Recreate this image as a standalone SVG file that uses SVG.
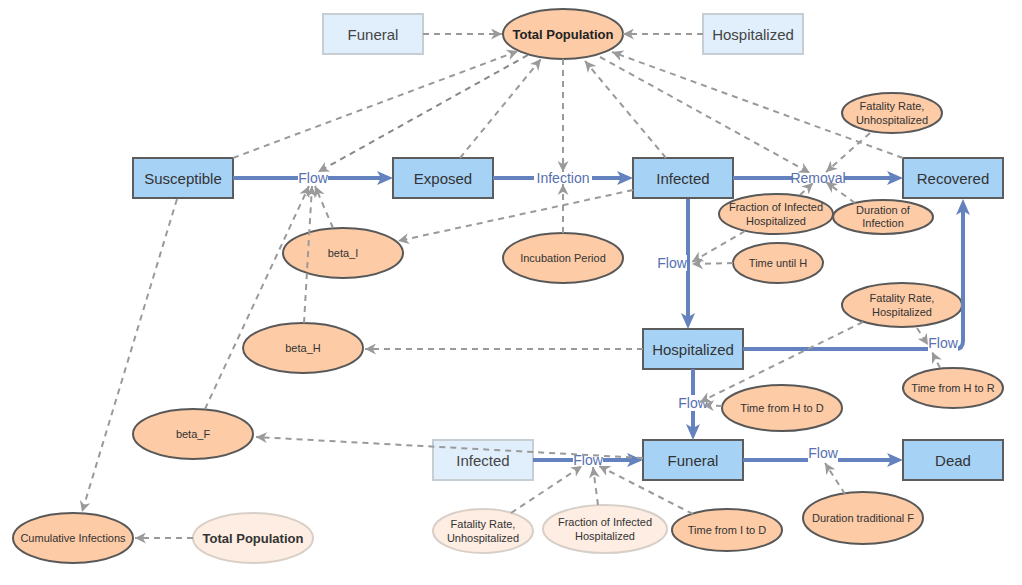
<svg xmlns="http://www.w3.org/2000/svg" width="1022" height="585" viewBox="0 0 1022 585">
<style>
.stock{fill:#a6d2f6;stroke:#5c5c5c;stroke-width:2}
.ghostb{fill:#e1effc;stroke:#c6cdd3;stroke-width:2}
.var{fill:#fdcba6;stroke:#585858;stroke-width:2}
.ghoste{fill:#fdede2;stroke:#d8d0c8;stroke-width:2}
.bt{font-family:"Liberation Sans",Arial,sans-serif;font-size:15px;fill:#333;text-anchor:middle;dominant-baseline:central}
.gt{font-family:"Liberation Sans",Arial,sans-serif;font-size:15px;fill:#444;text-anchor:middle;dominant-baseline:central}
.et{font-family:"Liberation Sans",Arial,sans-serif;font-size:11px;fill:#333;text-anchor:middle;dominant-baseline:central}
.tp{font-family:"Liberation Sans",Arial,sans-serif;font-size:13px;font-weight:bold;fill:#222;text-anchor:middle;dominant-baseline:central}
.flow{fill:none;stroke:#6482bd;stroke-width:4;marker-end:url(#ba)}
.fl{font-family:"Liberation Sans",Arial,sans-serif;font-size:14px;fill:#5670b0;text-anchor:middle;dominant-baseline:central}
.lbg{fill:#fff}
.dep{fill:none;stroke:#9a9a9a;stroke-width:2;stroke-dasharray:6 5;marker-end:url(#ga)}
</style>
<defs>
<marker id="ba" viewBox="0 0 16 14" refX="8" refY="7" markerWidth="16" markerHeight="14" markerUnits="userSpaceOnUse" orient="auto"><path d="M0,0 L16,7 L0,14 L4,7 z" fill="#6482bd"/></marker>
<marker id="ga" viewBox="0 0 10 10" refX="10" refY="5" markerWidth="11" markerHeight="11" markerUnits="userSpaceOnUse" orient="auto"><path d="M0,0 L10,5 L0,10 L3,5 z" fill="#9a9a9a"/></marker>
</defs>
<rect width="1022" height="585" fill="#fff"/>

<g id="funeral-ghost"><rect class="ghostb" x="323" y="14" width="100" height="40"/><text class="gt" x="373" y="34">Funeral</text></g>
<g id="hospitalized-ghost"><rect class="ghostb" x="703" y="14" width="100" height="40"/><text class="gt" x="753" y="34">Hospitalized</text></g>
<g id="total-population"><ellipse class="var" cx="563" cy="34" rx="60" ry="25"/><text class="tp" x="563" y="34">Total Population</text></g>
<g id="susceptible"><rect class="stock" x="133" y="158" width="100" height="40"/><text class="bt" x="183" y="178">Susceptible</text></g>
<g id="exposed"><rect class="stock" x="393" y="158" width="100" height="40"/><text class="bt" x="443" y="178">Exposed</text></g>
<g id="infected"><rect class="stock" x="633" y="158" width="100" height="40"/><text class="bt" x="683" y="178">Infected</text></g>
<g id="recovered"><rect class="stock" x="903" y="158" width="100" height="40"/><text class="bt" x="953" y="178">Recovered</text></g>
<g id="hospitalized"><rect class="stock" x="643" y="329" width="100" height="40"/><text class="bt" x="693" y="349">Hospitalized</text></g>
<g id="funeral"><rect class="stock" x="643" y="440" width="100" height="40"/><text class="bt" x="693" y="460">Funeral</text></g>
<g id="dead"><rect class="stock" x="903" y="440" width="100" height="40"/><text class="bt" x="953" y="460">Dead</text></g>
<g id="infected-ghost"><rect class="ghostb" x="433" y="440" width="100" height="40"/><text class="gt" x="483" y="460">Infected</text></g>

<g id="beta-i"><ellipse class="var" cx="343" cy="253" rx="60" ry="25"/><text class="et" x="343" y="253">beta_I</text></g>
<g id="incubation-period"><ellipse class="var" cx="563" cy="258" rx="60" ry="25"/><text class="et" x="563" y="258">Incubation Period</text></g>
<g id="fatality-unhosp"><ellipse class="var" cx="892" cy="113" rx="50" ry="20"/><text class="et" x="892" y="106">Fatality Rate,</text><text class="et" x="892" y="120">Unhospitalized</text></g>
<g id="fraction-hosp"><ellipse class="var" cx="776" cy="214" rx="57" ry="20"/><text class="et" x="776" y="207">Fraction of Infected</text><text class="et" x="776" y="221">Hospitalized</text></g>
<g id="duration-infection"><ellipse class="var" cx="883" cy="217" rx="50" ry="17"/><text class="et" x="883" y="210">Duration of</text><text class="et" x="883" y="223">Infection</text></g>
<g id="time-until-h"><ellipse class="var" cx="778" cy="263" rx="45" ry="20"/><text class="et" x="778" y="263">Time until H</text></g>
<g id="fatality-hosp"><ellipse class="var" cx="902" cy="305" rx="60" ry="22"/><text class="et" x="902" y="298">Fatality Rate,</text><text class="et" x="902" y="312">Hospitalized</text></g>
<g id="time-h-to-r"><ellipse class="var" cx="953" cy="388" rx="50" ry="20"/><text class="et" x="953" y="388">Time from H to R</text></g>
<g id="time-h-to-d"><ellipse class="var" cx="782" cy="408" rx="60" ry="23"/><text class="et" x="782" y="408">Time from H to D</text></g>
<g id="beta-h"><ellipse class="var" cx="303" cy="348" rx="60" ry="25"/><text class="et" x="303" y="348">beta_H</text></g>
<g id="beta-f"><ellipse class="var" cx="193" cy="434" rx="60" ry="25"/><text class="et" x="193" y="434">beta_F</text></g>
<g id="cumulative-infections"><ellipse class="var" cx="73" cy="538" rx="60" ry="25"/><text class="et" x="73" y="538">Cumulative Infections</text></g>
<g id="total-population-ghost"><ellipse class="ghoste" cx="253" cy="538" rx="60" ry="25"/><text class="tp" x="253" y="538" style="fill:#333">Total Population</text></g>
<g id="fatality-unhosp-ghost"><ellipse class="ghoste" cx="483" cy="531" rx="50" ry="22"/><text class="et" x="483" y="524">Fatality Rate,</text><text class="et" x="483" y="538">Unhospitalized</text></g>
<g id="fraction-hosp-ghost"><ellipse class="ghoste" cx="605" cy="529" rx="62" ry="24"/><text class="et" x="605" y="522">Fraction of Infected</text><text class="et" x="605" y="536">Hospitalized</text></g>
<g id="time-i-to-d"><ellipse class="var" cx="727" cy="530" rx="55" ry="21"/><text class="et" x="727" y="530">Time from I to D</text></g>
<g id="duration-traditional-f"><ellipse class="var" cx="863" cy="518" rx="60" ry="26"/><text class="et" x="863" y="518">Duration traditional F</text></g>

<g id="flows">
<path class="flow" d="M233,178 L385,178"/>
<path class="flow" d="M493,178 L625,178"/>
<path class="flow" d="M733,178 L895,178"/>
<path class="flow" d="M688,199 L688,321"/>
<path class="flow" d="M743,349 L955,349 Q963,349 963,341 L963,207"/>
<path class="flow" d="M693,369 L693,432"/>
<path class="flow" d="M533,460 L635,460"/>
<path class="flow" d="M743,460 L895,460"/>
<rect class="lbg" x="298" y="170" width="30" height="16"/><text class="fl" x="313" y="178">Flow</text>
<rect class="lbg" x="534" y="170" width="58" height="16"/><text class="fl" x="563" y="178">Infection</text>
<rect class="lbg" x="792" y="170" width="52" height="16"/><text class="fl" x="818" y="178">Removal</text>
<rect class="lbg" x="657" y="255" width="30" height="16"/><text class="fl" x="672" y="263">Flow</text>
<rect class="lbg" x="928" y="335" width="30" height="16"/><text class="fl" x="943" y="343">Flow</text>
<rect class="lbg" x="678" y="395" width="30" height="16"/><text class="fl" x="693" y="403">Flow</text>
<rect class="lbg" x="573" y="452" width="30" height="16"/><text class="fl" x="588" y="460">Flow</text>
<rect class="lbg" x="808" y="445" width="30" height="19"/><text class="fl" x="823" y="453">Flow</text>
</g>

<g id="connectors">
<path class="dep" d="M423,34 L502,34"/>
<path class="dep" d="M703,34 L623,34"/>
<path class="dep" d="M233,158 L518,51"/>
<path class="dep" d="M528,55 L318,172" style="stroke:#888"/>
<path class="dep" d="M460,158 L541,59"/>
<path class="dep" d="M563,59 L563,172"/>
<path class="dep" d="M563,233 L563,184"/>
<path class="dep" d="M666,158 L585,61"/>
<path class="dep" d="M903,158 L612,52"/>
<path class="dep" d="M600,57 L810,173"/>
<path class="dep" d="M870,133 L826,172"/>
<path class="dep" d="M855,203 L826,182"/>
<path class="dep" d="M800,195 L813,183"/>
<path class="dep" d="M745,231 L692,262"/>
<path class="dep" d="M733,263 L692,264"/>
<path class="dep" d="M633,190 L398,241"/>
<path class="dep" d="M333,228 L315,186"/>
<path class="dep" d="M304,323 L312,186"/>
<path class="dep" d="M205,409 L309,186"/>
<path class="dep" d="M177,199 L82,512"/>
<path class="dep" d="M193,538 L135,538"/>
<path class="dep" d="M643,349 L365,349"/>
<path class="dep" d="M643,458 L256,437"/>
<path class="dep" d="M511,513 L582,466"/>
<path class="dep" d="M598,505 L593,467"/>
<path class="dep" d="M693,514 L599,466"/>
<path class="dep" d="M845,494 L825,463"/>
<path class="dep" d="M863,322 L700,402"/>
<path class="dep" d="M722,406 L703,405"/>
<path class="dep" d="M917,328 L928,345"/>
<path class="dep" d="M940,368 L932,352"/>
</g>
</svg>
